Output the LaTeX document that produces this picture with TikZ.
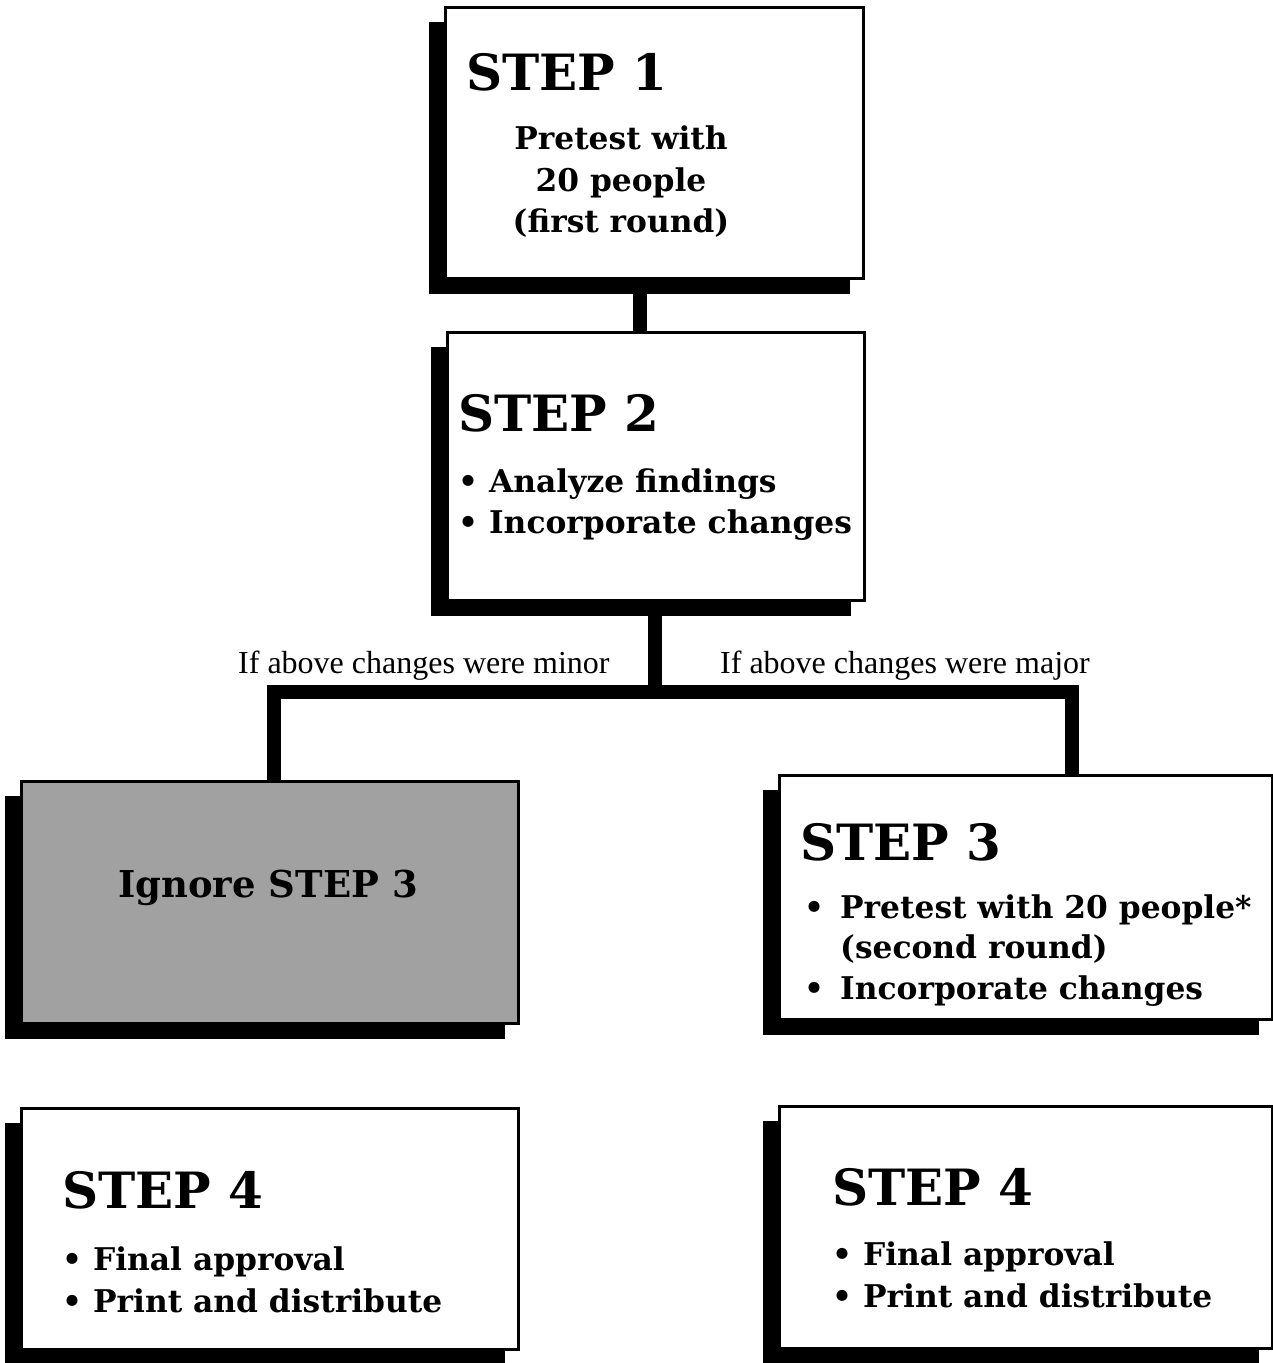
\documentclass[tikz,border=0pt]{standalone}
\usepackage{fontspec}
\setmainfont{DejaVu Serif}
\newfontfamily\lblfont{Liberation Serif}
\tikzset{
  boxnode/.style={draw=black, line width=2.5pt, inner sep=0pt, anchor=north west},
  conn/.style={line width=14pt, line join=miter, draw=black},
  titletext/.style={font=\fontsize{50}{60}\selectfont\bfseries, anchor=base west, inner sep=0pt},
  bodytext/.style={font=\fontsize{31.3}{40}\selectfont\bfseries, anchor=base west, inner sep=0pt},
  lbltext/.style={font=\lblfont\fontsize{32}{40}\selectfont, anchor=base west, inner sep=0pt},
}
\newcommand\mkbox[6]{%
  \fill[black] (#2-15,#3+16) rectangle (#4-12,#5+17);
  \path (#2,#3) node[boxnode, fill=#6, minimum width={#4-#2}, minimum height={#5-#3}] (#1) {};
}
\begin{document}
\begin{tikzpicture}[x=1pt,y=-1pt]
\useasboundingbox[fill=white] (0,0) rectangle (1273,1363);

% boxes
\mkbox{b1}{444}{6}{862}{277}{white}
\mkbox{b2}{446}{331}{863}{599}{white}
\mkbox{ig}{20}{780}{517}{1022}{black!37}
\mkbox{b3}{778}{774}{1271}{1018}{white}
\mkbox{b4l}{20}{1107}{517}{1348}{white}
\mkbox{b4r}{778}{1105}{1271}{1347}{white}

% connectors
\coordinate (sa) at (640,0);
\coordinate (jm) at (655,692);
\coordinate (jl) at (274,692);
\coordinate (jr) at (1072,692);
\draw[conn] (sa |- b1.south) -- (sa |- b2.north);
\draw[conn] (jm |- b2.south) -- (jm);
\draw[conn] (jl |- ig.north) -- (jl) -- (jr) -- (jr |- b3.north);

% labels
\node[lbltext] (lmin) at (238,673) {If above changes were minor};
\node[lbltext] (lmaj) at (720,673) {If above changes were major};

% step 1
\node[titletext] (t1) at (466,90) {STEP 1};
\node[bodytext, anchor=base] (t1a) at (621,149) {Pretest with};
\node[bodytext, anchor=base] (t1b) at (621,191) {20 people};
\node[bodytext, anchor=base] (t1c) at (621,232) {(first round)};

% step 2
\node[titletext] (t2) at (458,431) {STEP 2};
\node[bodytext] (t2a) at (458,492) {• Analyze findings};
\node[bodytext] (t2b) at (458,533) {• Incorporate changes};

% ignore
\node[bodytext, anchor=base, font=\fontsize{37}{42}\selectfont\bfseries] (tig) at (268,897) {Ignore STEP 3};

% step 3
\node[titletext] (t3) at (800,860) {STEP 3};
\node[bodytext] (t3d1) at (804,918) {•};
\node[bodytext] (t3a) at (840,918) {Pretest with 20 people*};
\node[bodytext] (t3b) at (840,958) {(second round)};
\node[bodytext] (t3d2) at (804,999) {•};
\node[bodytext] (t3c) at (840,999) {Incorporate changes};

% step 4 left
\node[titletext] (t4l) at (62,1208) {STEP 4};
\node[bodytext] (t4la) at (62,1270) {• Final approval};
\node[bodytext] (t4lb) at (62,1312) {• Print and distribute};

% step 4 right
\node[titletext] (t4r) at (832,1205) {STEP 4};
\node[bodytext] (t4ra) at (832,1265) {• Final approval};
\node[bodytext] (t4rb) at (832,1307) {• Print and distribute};
\end{tikzpicture}
\end{document}
